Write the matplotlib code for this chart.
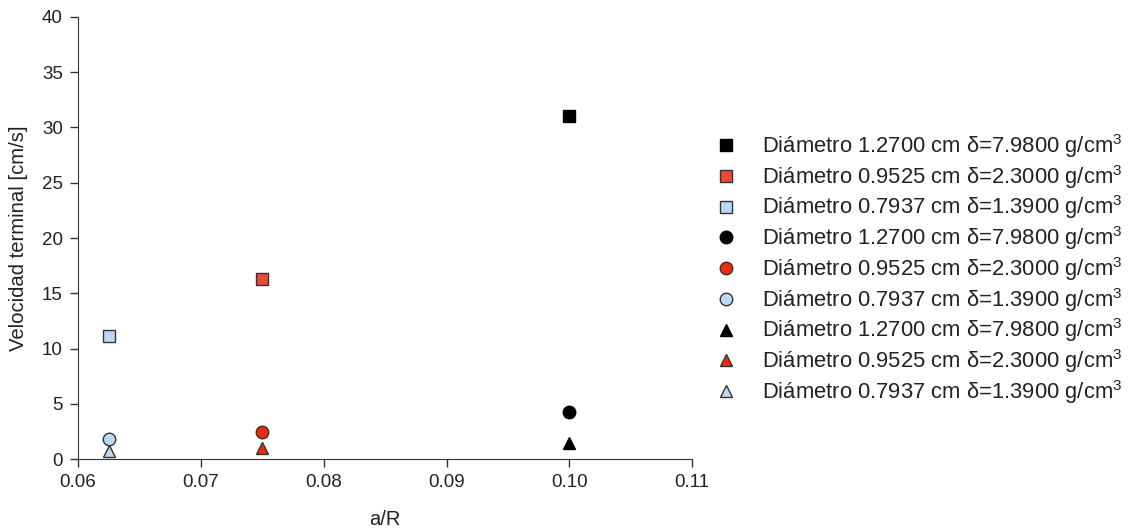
import matplotlib
matplotlib.use("Agg")
import matplotlib.pyplot as plt

plt.rcParams['font.family'] = ['Liberation Sans', 'DejaVu Sans']
plt.rcParams['mathtext.fontset'] = 'custom'
plt.rcParams['mathtext.rm'] = 'Liberation Sans'

# Data
x_vals = [0.0625, 0.075, 0.100]
sq_vals = [11.1, 16.3, 31.0]      # squares
ci_vals = [1.85, 2.5, 4.3]        # circles
tr_vals = [0.7, 1.0, 1.5]         # triangles
diam_labels = ["Diámetro 1.2700 cm δ=7.9800 g/cm$^3$",
               "Diámetro 0.9525 cm δ=2.3000 g/cm$^3$",
               "Diámetro 0.7937 cm δ=1.3900 g/cm$^3$"]
# order: index 0 -> x=0.100 (black), 1 -> 0.075 (red), 2 -> 0.0625 (light blue)
series_idx = [2, 1, 0]
colors = ['black', '#ee2a10', '#bdd8f3']
sq_colors = ['black', '#ec4a3c', '#bdd8f3']
edge = '#333333'

fig = plt.figure(figsize=(11.31, 5.29), dpi=100)
ax = fig.add_axes([0.069, 0.132, 0.543, 0.836])

handles = []
for marker, vals, cols, ms in [('s', sq_vals, sq_colors, 8), ('o', ci_vals, colors, 9), ('^', tr_vals, colors, 9)]:
    for i in range(3):
        j = series_idx[i]
        h, = ax.plot([x_vals[j]], [vals[j]], linestyle='none', marker=marker,
                     markersize=ms, markerfacecolor=cols[i],
                     markeredgecolor=edge if i > 0 else 'black', markeredgewidth=1.0,
                     label=diam_labels[i])
        handles.append(h)

ax.set_xlim(0.06, 0.11)
ax.set_ylim(0, 40)
ax.set_xticks([0.06, 0.07, 0.08, 0.09, 0.10, 0.11])
ax.set_xticklabels(['0.06', '0.07', '0.08', '0.09', '0.10', '0.11'])
ax.set_yticks(range(0, 41, 5))
ax.spines['top'].set_visible(False)
ax.spines['right'].set_visible(False)
for s in ['left', 'bottom']:
    ax.spines[s].set_color('#333333')
ax.tick_params(direction='out', length=6, width=1, colors='#333333', labelsize=13.5,
               labelcolor='#222222', pad=5)
ax.set_xlabel('a/R', fontsize=14.5, labelpad=13, color='#222222')
ax.set_ylabel('Velocidad terminal [cm/s]', fontsize=14.6, labelpad=10, color='#222222')

leg = fig.legend(handles=handles, loc='upper left', bbox_to_anchor=(0.613, 0.788),
                 frameon=False, fontsize=15.8, handletextpad=1.05, labelspacing=0.13,
                 handlelength=1.2)
for t in leg.get_texts():
    t.set_color('#222222')

fig.savefig('out.png', dpi=100)
